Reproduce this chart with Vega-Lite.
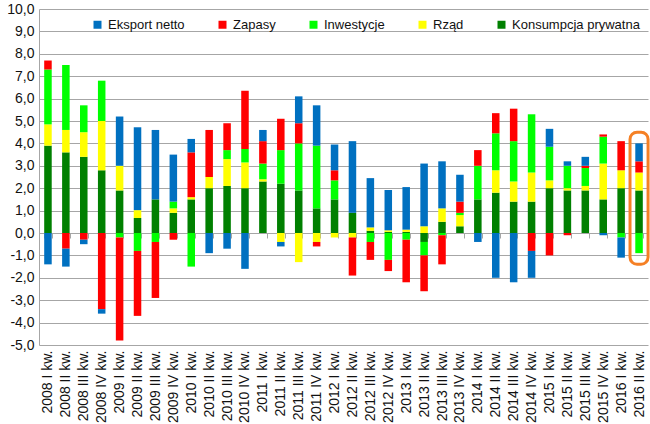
{
  "$schema": "https://vega.github.io/schema/vega-lite/v6.json",
  "width": 609,
  "height": 336,
  "autosize": {"type": "none"},
  "padding": {"left": 39, "top": 9, "right": 2, "bottom": 79},
  "background": "white",
  "config": {
    "view": {"stroke": null},
    "font": "Liberation Sans"
  },
  "data": {
    "values": [
      {"q": "2008 I kw.", "Konsumpcja prywatna": 3.9, "Rząd": 0.95, "Inwestycje": 2.45, "Zapasy": 0.4, "Eksport netto": -1.4},
      {"q": "2008 II kw.", "Konsumpcja prywatna": 3.6, "Rząd": 1.0, "Inwestycje": 2.9, "Zapasy": -0.7, "Eksport netto": -0.8},
      {"q": "2008 III kw.", "Konsumpcja prywatna": 3.4, "Rząd": 1.1, "Inwestycje": 1.2, "Zapasy": -0.3, "Eksport netto": -0.2},
      {"q": "2008 IV kw.", "Konsumpcja prywatna": 2.8, "Rząd": 2.2, "Inwestycje": 1.8, "Zapasy": -3.4, "Eksport netto": -0.2},
      {"q": "2009 I kw.", "Konsumpcja prywatna": 1.9, "Rząd": 1.1, "Inwestycje": -0.2, "Zapasy": -4.6, "Eksport netto": 2.2},
      {"q": "2009 II kw.", "Konsumpcja prywatna": 0.67, "Rząd": 0.35, "Inwestycje": -0.8, "Zapasy": -2.9, "Eksport netto": 3.7},
      {"q": "2009 III kw.", "Konsumpcja prywatna": 1.5, "Rząd": 0.0, "Inwestycje": -0.4, "Zapasy": -2.5, "Eksport netto": 3.1},
      {"q": "2009 IV kw.", "Konsumpcja prywatna": 0.9, "Rząd": 0.2, "Inwestycje": 0.3, "Zapasy": -0.3, "Eksport netto": 2.1},
      {"q": "2010 I kw.", "Konsumpcja prywatna": 1.5, "Rząd": 0.1, "Inwestycje": -1.5, "Zapasy": 2.0, "Eksport netto": 0.6},
      {"q": "2010 II kw.", "Konsumpcja prywatna": 2.0, "Rząd": 0.5, "Inwestycje": 0.0, "Zapasy": 2.1, "Eksport netto": -0.9},
      {"q": "2010 III kw.", "Konsumpcja prywatna": 2.1, "Rząd": 1.2, "Inwestycje": 0.4, "Zapasy": 1.2, "Eksport netto": -0.7},
      {"q": "2010 IV kw.", "Konsumpcja prywatna": 2.0, "Rząd": 1.15, "Inwestycje": 0.6, "Zapasy": 2.6, "Eksport netto": -1.6},
      {"q": "2011 I kw.", "Konsumpcja prywatna": 2.3, "Rząd": 0.1, "Inwestycje": 0.7, "Zapasy": 1.0, "Eksport netto": 0.5},
      {"q": "2011 II kw.", "Konsumpcja prywatna": 2.2, "Rząd": -0.4, "Inwestycje": 1.5, "Zapasy": 1.4, "Eksport netto": -0.2},
      {"q": "2011 III kw.", "Konsumpcja prywatna": 1.9, "Rząd": -1.3, "Inwestycje": 2.1, "Zapasy": 0.9, "Eksport netto": 1.2},
      {"q": "2011 IV kw.", "Konsumpcja prywatna": 1.1, "Rząd": -0.4, "Inwestycje": 2.8, "Zapasy": -0.2, "Eksport netto": 1.8},
      {"q": "2012 I kw.", "Konsumpcja prywatna": 1.5, "Rząd": -0.2, "Inwestycje": 0.85, "Zapasy": 0.45, "Eksport netto": 1.15},
      {"q": "2012 II kw.", "Konsumpcja prywatna": 0.9, "Rząd": -0.2, "Inwestycje": 0.0, "Zapasy": -1.7, "Eksport netto": 3.2},
      {"q": "2012 III kw.", "Konsumpcja prywatna": 0.1, "Rząd": 0.15, "Inwestycje": -0.4, "Zapasy": -0.8, "Eksport netto": 2.2},
      {"q": "2012 IV kw.", "Konsumpcja prywatna": 0.05, "Rząd": 0.07, "Inwestycje": -1.2, "Zapasy": -0.5, "Eksport netto": 1.8},
      {"q": "2013 I kw.", "Konsumpcja prywatna": 0.05, "Rząd": 0.1, "Inwestycje": -0.3, "Zapasy": -1.9, "Eksport netto": 1.9},
      {"q": "2013 II kw.", "Konsumpcja prywatna": -0.4, "Rząd": 0.3, "Inwestycje": -0.6, "Zapasy": -1.6, "Eksport netto": 2.8},
      {"q": "2013 III kw.", "Konsumpcja prywatna": 0.5, "Rząd": 0.6, "Inwestycje": -0.1, "Zapasy": -1.3, "Eksport netto": 2.1},
      {"q": "2013 IV kw.", "Konsumpcja prywatna": 0.3, "Rząd": 0.5, "Inwestycje": 0.1, "Zapasy": 0.5, "Eksport netto": 1.2},
      {"q": "2014 I kw.", "Konsumpcja prywatna": 1.5, "Rząd": 0.0, "Inwestycje": 1.5, "Zapasy": 0.7, "Eksport netto": -0.4},
      {"q": "2014 II kw.", "Konsumpcja prywatna": 1.8, "Rząd": 1.0, "Inwestycje": 1.65, "Zapasy": 0.9, "Eksport netto": -2.0},
      {"q": "2014 III kw.", "Konsumpcja prywatna": 1.4, "Rząd": 0.9, "Inwestycje": 1.8, "Zapasy": 1.45, "Eksport netto": -2.2},
      {"q": "2014 IV kw.", "Konsumpcja prywatna": 1.4, "Rząd": 1.3, "Inwestycje": 2.6, "Zapasy": -0.8, "Eksport netto": -1.2},
      {"q": "2015 I kw.", "Konsumpcja prywatna": 2.0, "Rząd": 0.35, "Inwestycje": 1.5, "Zapasy": -1.0, "Eksport netto": 0.8},
      {"q": "2015 II kw.", "Konsumpcja prywatna": 1.9, "Rząd": 0.1, "Inwestycje": 1.0, "Zapasy": -0.1, "Eksport netto": 0.2},
      {"q": "2015 III kw.", "Konsumpcja prywatna": 1.9, "Rząd": 0.2, "Inwestycje": 0.8, "Zapasy": 0.1, "Eksport netto": 0.4},
      {"q": "2015 IV kw.", "Konsumpcja prywatna": 1.5, "Rząd": 1.6, "Inwestycje": 1.2, "Zapasy": 0.1, "Eksport netto": -0.1},
      {"q": "2016 I kw.", "Konsumpcja prywatna": 2.0, "Rząd": 0.8, "Inwestycje": -0.2, "Zapasy": 1.3, "Eksport netto": -0.9},
      {"q": "2016 II kw.", "Konsumpcja prywatna": 1.9, "Rząd": 0.8, "Inwestycje": -0.9, "Zapasy": 0.5, "Eksport netto": 0.8}
    ]
  },
  "layer": [
    {
      "transform": [
        {"fold": ["Konsumpcja prywatna", "Rząd", "Inwestycje", "Zapasy", "Eksport netto"], "as": ["series", "value"]},
        {"calculate": "indexof(['Konsumpcja prywatna','Rząd','Inwestycje','Zapasy','Eksport netto'], datum.series)", "as": "ord"}
      ],
      "mark": {"type": "bar"},
      "encoding": {
        "x": {
          "field": "q", "type": "nominal", "sort": null,
          "scale": {"paddingInner": 0.58, "paddingOuter": 0.29},
          "axis": {
            "title": null, "orient": "bottom", "offset": -112,
            "domain": true, "domainColor": "#a6a6a6", "domainWidth": 1,
            "ticks": true, "tickBand": "extent", "tickSize": 5, "tickColor": "#a6a6a6",
            "labelAngle": -90, "labelPadding": 112, "labelFontSize": 14, "labelColor": "#111111",
            "labelAlign": "right", "labelBaseline": "middle", "grid": false, "labelOverlap": false
          }
        },
        "y": {
          "field": "value", "type": "quantitative", "stack": "zero",
          "scale": {"domain": [-5, 10], "nice": false},
          "axis": {
            "title": null, "values": [-5, -4, -3, -2, -1, 0, 1, 2, 3, 4, 5, 6, 7, 8, 9, 10],
            "labelExpr": "replace(replace(format(datum.value, '.1f'), '.', ','), '\u2212', '-')",
            "grid": true, "gridColor": "#a6a6a6", "gridWidth": 1,
            "domain": true, "domainColor": "#a6a6a6", "ticks": false, "labelOverlap": false,
            "labelBound": false, "labelFlush": false,
            "labelPadding": 5, "labelFontSize": 14, "labelColor": "#111111"
          }
        },
        "color": {
          "field": "series", "type": "nominal",
          "scale": {
            "domain": ["Eksport netto", "Zapasy", "Inwestycje", "Rząd", "Konsumpcja prywatna"],
            "range": ["#0070C0", "#FF0000", "#00FF00", "#FFFF00", "#008000"]
          },
          "legend": {
            "title": null, "orient": "none", "legendX": 52, "legendY": 9,
            "direction": "horizontal", "symbolType": "square", "symbolSize": 64,
            "symbolStrokeWidth": 0, "labelFontSize": 13, "labelColor": "#111111",
            "labelOffset": 4, "columnPadding": 31, "padding": 0
          }
        },
        "order": {"field": "ord", "type": "quantitative"}
      }
    },
    {
      "data": {"values": [{"q": "2016 II kw.", "lo": -1.4, "hi": 4.5}]},
      "mark": {"type": "bar", "filled": false, "fill": null, "stroke": "#F58025", "strokeWidth": 3, "cornerRadius": 7, "width": {"band": 2.4}},
      "encoding": {
        "x": {
          "field": "q", "type": "nominal", "sort": null,
          "axis": {
            "title": null, "orient": "bottom", "offset": -112,
            "domain": true, "domainColor": "#a6a6a6", "domainWidth": 1,
            "ticks": true, "tickBand": "extent", "tickSize": 5, "tickColor": "#a6a6a6",
            "labelAngle": -90, "labelPadding": 112, "labelFontSize": 14, "labelColor": "#111111",
            "labelAlign": "right", "labelBaseline": "middle", "grid": false, "labelOverlap": false
          }
        },
        "y": {
          "field": "lo", "type": "quantitative",
          "axis": {
            "title": null, "values": [-5, -4, -3, -2, -1, 0, 1, 2, 3, 4, 5, 6, 7, 8, 9, 10],
            "labelExpr": "replace(replace(format(datum.value, '.1f'), '.', ','), '\u2212', '-')",
            "grid": true, "gridColor": "#a6a6a6", "gridWidth": 1,
            "domain": true, "domainColor": "#a6a6a6", "ticks": false, "labelOverlap": false,
            "labelBound": false, "labelFlush": false,
            "labelPadding": 5, "labelFontSize": 14, "labelColor": "#111111"
          }
        },
        "y2": {"field": "hi"}
      }
    }
  ]
}
